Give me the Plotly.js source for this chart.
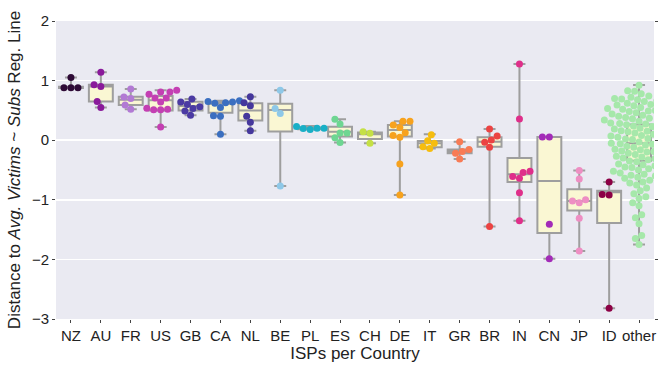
<!DOCTYPE html>
<html>
<head>
<meta charset="utf-8">
<script src="https://cdn.plot.ly/plotly-3.0.1.min.js"></script>
<style>html,body{margin:0;padding:0;background:#fff;}#chart{width:661px;height:365px;}</style>
</head>
<body>
<div id="chart"></div>
<script>
// Categories (x tick labels)
const categories = ['NZ','AU','FR','US','GB','CA','NL','BE','PL','ES','CH','DE','IT','GR','BR','IN','CN','JP','ID','other'];

// Box statistics
const q1Values     = [0.875, 0.65, 0.59, 0.50, 0.50, 0.46, 0.33, 0.145, 0.185, 0.06, 0.02, 0.06, -0.12, -0.22, -0.11, -0.70, -1.555, -1.18, -1.39, -0.345];
const medianValues = [0.88, 0.90, 0.68, 0.67, 0.575, 0.61, 0.50, 0.505, 0.20, 0.14, 0.10, 0.17, -0.05, -0.19, -0.025, -0.57, -0.685, -1.02, -0.875, -0.05];
const q3Values     = [0.895, 0.93, 0.73, 0.74, 0.645, 0.645, 0.62, 0.61, 0.215, 0.225, 0.13, 0.255, -0.015, -0.155, 0.05, -0.30, 0.054, -0.825, -0.85, 0.265];
const lowWhisker   = [0.875, 0.55, 0.52, 0.22, 0.42, 0.10, 0.16, -0.77, 0.18, -0.04, -0.05, -0.92, -0.14, -0.315, -1.45, -1.35, -1.99, -1.86, -2.82, -1.75];
const highWhisker  = [1.05, 1.14, 0.86, 0.84, 0.69, 0.66, 0.73, 0.84, 0.24, 0.35, 0.14, 0.32, 0.10, -0.025, 0.19, 1.28, 0.054, -0.51, -0.70, 0.925];

// Individual ISP points per country
const ptsNZ = [0.88, 0.88, 0.88, 1.05];
const ptsAU = [0.55, 0.65, 0.90, 0.93, 1.14];
const ptsFR = [0.52, 0.59, 0.70, 0.725, 0.86];
const ptsUS = [0.22, 0.51, 0.51, 0.52, 0.535, 0.64, 0.71, 0.71, 0.77, 0.81, 0.81, 0.84];
const ptsGB = [0.42, 0.49, 0.53, 0.56, 0.60, 0.64, 0.69];
const ptsCA = [0.10, 0.40, 0.41, 0.55, 0.62, 0.63, 0.64, 0.65, 0.66];
const ptsNL = [0.16, 0.30, 0.40, 0.58, 0.63, 0.73];
const ptsBE = [-0.77, 0.45, 0.53, 0.84];
const ptsPL = [0.18, 0.195, 0.20, 0.20, 0.23];
const ptsES = [-0.04, 0.04, 0.12, 0.12, 0.27, 0.35];
const ptsCH = [-0.05, 0.115, 0.14];
const ptsDE = [-0.92, -0.40, 0.05, 0.08, 0.125, 0.215, 0.255, 0.32, 0.32];
const ptsIT = [-0.14, -0.11, -0.05, -0.01, 0.09];
const ptsGR = [-0.315, -0.22, -0.19, -0.155, -0.025];
const ptsBR = [-1.45, -0.12, -0.035, 0.005, 0.07, 0.19];
const ptsIN = [-1.35, -0.88, -0.64, -0.61, -0.54, -0.52, 0.355, 1.28];
const ptsCN = [-1.99, -1.41, 0.054, 0.054];
const ptsJP = [-1.86, -1.31, -1.05, -1.02, -1.00, -0.65, -0.51];
const ptsID = [-2.82, -0.92, -0.91, -0.70];
const ptsOther = [0.92, 0.83, 0.82, 0.78, 0.74, 0.72, 0.70, 0.69, 0.68, 0.66, 0.65, 0.63, 0.62, 0.60, 0.59, 0.58,
  0.56, 0.55, 0.53, 0.52, 0.50, 0.49, 0.48, 0.46, 0.45, 0.44, 0.42, 0.41, 0.40, 0.38, 0.37, 0.36, 0.34, 0.33,
  0.32, 0.30, 0.29, 0.28, 0.27, 0.26, 0.24, 0.23, 0.22, 0.20, 0.19, 0.18, 0.16, 0.15, 0.14, 0.12, 0.11, 0.10,
  0.08, 0.07, 0.06, 0.05, 0.03, 0.02, 0.01, -0.01, -0.02, -0.03, -0.05, -0.06, -0.07, -0.08, -0.10, -0.11,
  -0.12, -0.14, -0.15, -0.16, -0.18, -0.19, -0.20, -0.22, -0.23, -0.24, -0.26, -0.27, -0.28, -0.30, -0.31,
  -0.33, -0.35, -0.36, -0.38, -0.40, -0.41, -0.43, -0.45, -0.46, -0.48, -0.50, -0.52, -0.53, -0.55, -0.57,
  -0.59, -0.60, -0.62, -0.64, -0.67, -0.70, -0.72, -0.75, -0.80, -0.85, -0.90, -0.95, -0.98, -1.05, -1.10,
  -1.25, -1.30, -1.40, -1.60, -1.65, -1.75];
const pointSets = [ptsNZ, ptsAU, ptsFR, ptsUS, ptsGB, ptsCA, ptsNL, ptsBE, ptsPL, ptsES, ptsCH, ptsDE, ptsIT, ptsGR, ptsBR, ptsIN, ptsCN, ptsJP, ptsID, ptsOther];

// Styles
const pointColors = ['#2e0a36','#8a1a9b','#b27ad4','#c43fb3','#4b3aa3','#3b6fc0','#45379c','#8ec8e8','#19afc6','#6ed692',
                     '#c5e045','#f7a21d','#f6bd0e','#f87b55','#ec4343','#df2f8a','#a32bb8','#ee8ec3','#8c0045','#a6e8aa'];
const boxFill = '#faf7d3';
const boxLine = '#9e9e9e';

// Layout geometry (used for the swarm spacing)
const W = 661, H = 365;
const M = {l: 56, r: 7, t: 21, b: 46};
const yRange = [-3, 2];
const xRange = [-0.5, categories.length - 0.5];
const markerSize = 7;
const pxPerY = (H - M.t - M.b) / (yRange[1] - yRange[0]);
const pxPerX = (W - M.l - M.r) / (xRange[1] - xRange[0]);

// Beeswarm placement (like a swarm plot): returns horizontal offsets in px
function swarmOffsets(vals, d) {
  const order = vals.map((v, i) => [v, i]).sort((a, b) => a[0] - b[0]);
  const placed = [];
  const out = new Array(vals.length).fill(0);
  for (const [v, i] of order) {
    const y = v * pxPerY;
    const nb = placed.filter(p => Math.abs(p.y - y) < d);
    const cands = [0];
    nb.forEach(p => {
      const dx = Math.sqrt(Math.max(d * d - (p.y - y) * (p.y - y), 0));
      cands.push(p.x + dx, p.x - dx);
    });
    cands.sort((a, b) => Math.abs(a) - Math.abs(b) || a - b);
    const ok = c => nb.every(p => (p.x - c) * (p.x - c) + (p.y - y) * (p.y - y) >= d * d - 1e-6);
    const chosen = cands.find(ok);
    placed.push({x: chosen, y: y});
    out[i] = chosen;
  }
  return out;
}

const traces = [];
categories.forEach((c, i) => {
  traces.push({
    type: 'box', orientation: 'v',
    x: [i], q1: [q1Values[i]], median: [medianValues[i]], q3: [q3Values[i]],
    lowerfence: [lowWhisker[i]], upperfence: [highWhisker[i]],
    width: 0.8, whiskerwidth: 0.5, boxpoints: false,
    fillcolor: boxFill, line: {color: boxLine, width: 2},
    showlegend: false, hoverinfo: 'skip', name: c
  });
});
categories.forEach((c, i) => {
  const pts = pointSets[i];
  const offs = swarmOffsets(pts, markerSize);
  traces.push({
    type: 'scatter', mode: 'markers', name: c,
    x: offs.map(o => i + o / pxPerX), y: pts,
    marker: {color: pointColors[i], size: markerSize, line: {width: 0}},
    showlegend: false, hoverinfo: 'y'
  });
});

const layout = {
  width: W, height: H,
  margin: M,
  paper_bgcolor: '#ffffff', plot_bgcolor: '#eaeaf2',
  font: {family: '"Liberation Sans", Arial, sans-serif', color: '#222', size: 15},
  showlegend: false,
  boxmode: 'overlay',
  xaxis: {
    type: 'linear', range: xRange,
    tickmode: 'array', tickvals: categories.map((c, i) => i), ticktext: categories,
    showgrid: false, zeroline: false,
    ticks: 'outside', ticklen: 3, tickcolor: '#444', tickwidth: 1,
    tickfont: {size: 15, color: '#222'},
    title: {text: 'ISPs per Country', font: {size: 17, color: '#222'}, standoff: 4}
  },
  yaxis: {
    range: yRange, dtick: 1, tick0: 0,
    showgrid: true, gridcolor: '#ffffff', gridwidth: 1.5, zeroline: false,
    ticks: 'outside', ticklen: 3, tickcolor: '#444', tickwidth: 1, mirror: 'ticks',
    tickfont: {size: 15, color: '#222'},
    title: {text: 'Distance to <i>Avg. Victims</i> ~ <i>Subs</i> Reg. Line', font: {size: 17, color: '#222'}, standoff: 6}
  }
};

Plotly.newPlot('chart', traces, layout, {displayModeBar: false, staticPlot: true});
</script>
</body>
</html>
